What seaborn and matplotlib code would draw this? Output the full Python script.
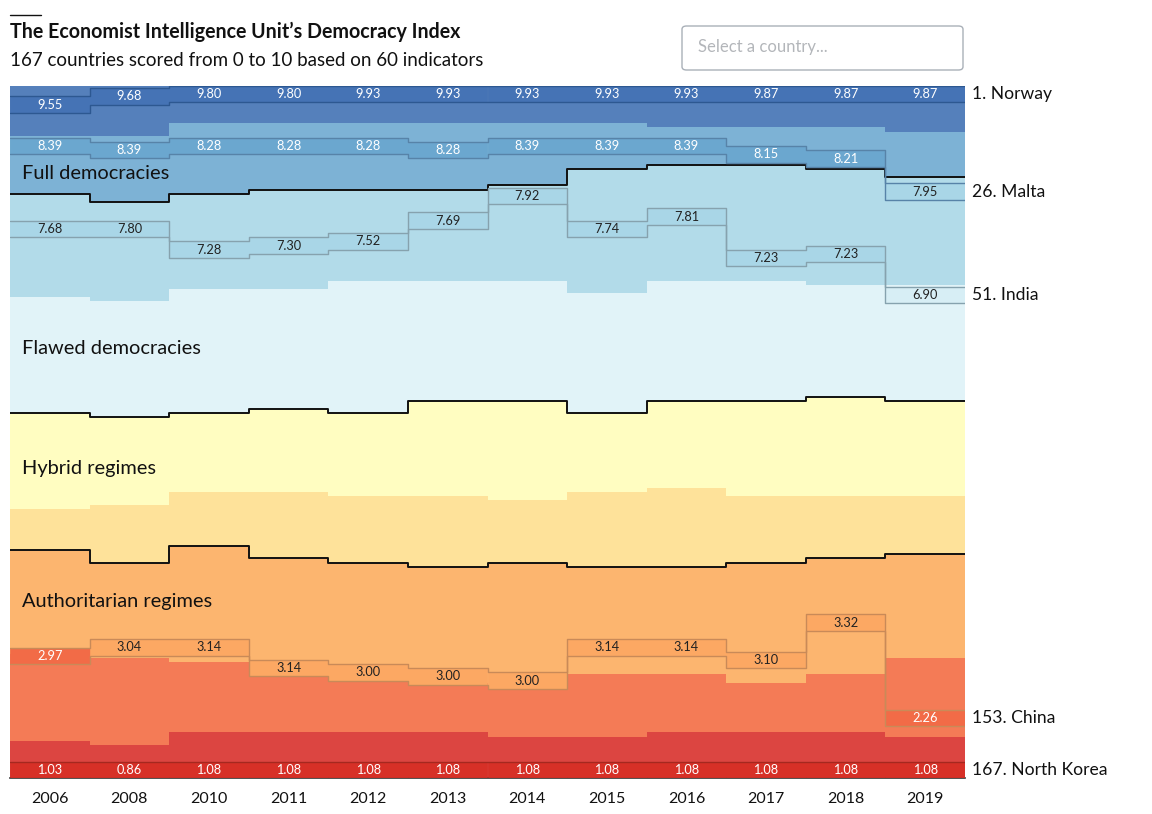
import matplotlib
matplotlib.use("Agg")
import matplotlib.pyplot as plt
from matplotlib.patches import FancyBboxPatch
import numpy as np
import pandas as pd
import seaborn as sns

# years shown as columns
years = ['2006', '2008', '2010', '2011', '2012', '2013', '2014',
         '2015', '2016', '2017', '2018', '2019']

# number of countries per score bracket, per year (top bracket first)
n_9_10 = [12, 12, 9, 9, 9, 9, 9, 9, 10, 10, 10, 11]
n_8_9 = [14, 16, 17, 16, 16, 16, 15, 11, 9, 9, 10, 11]
n_7_8 = [25, 24, 23, 24, 22, 22, 23, 30, 28, 28, 28, 26]
n_6_7 = [28, 28, 30, 29, 32, 29, 29, 29, 29, 29, 27, 28]
n_5_6 = [23, 21, 19, 20, 20, 23, 24, 19, 21, 23, 24, 23]
n_4_5 = [10, 14, 13, 16, 16, 17, 15, 18, 19, 16, 15, 14]
n_3_4 = [25, 23, 28, 28, 28, 28, 30, 26, 26, 29, 28, 25]
n_2_3 = [21, 21, 17, 14, 13, 12, 12, 15, 14, 12, 14, 19]
n_1_2 = [9, 7, 11, 11, 11, 11, 10, 10, 11, 11, 11, 10]
n_0_1 = [0, 1, 0, 0, 0, 0, 0, 0, 0, 0, 0, 0]

# highlighted countries: rank and score per year
norway_rank = [5, 3, 1, 1, 1, 1, 1, 1, 1, 1, 1, 1]
norway_score = [9.55, 9.68, 9.80, 9.80, 9.93, 9.93, 9.93, 9.93, 9.93, 9.87, 9.87, 9.87]
malta_rank = [15, 16, 15, 15, 15, 16, 15, 15, 15, 17, 18, 26]
malta_score = [8.39, 8.39, 8.28, 8.28, 8.28, 8.28, 8.39, 8.39, 8.39, 8.15, 8.21, 7.95]
india_rank = [35, 35, 40, 39, 38, 33, 27, 35, 32, 42, 41, 51]
india_score = [7.68, 7.80, 7.28, 7.30, 7.52, 7.69, 7.92, 7.74, 7.81, 7.23, 7.23, 6.90]
china_rank = [138, 136, 136, 141, 142, 143, 144, 136, 136, 139, 130, 153]
china_score = [2.97, 3.04, 3.14, 3.14, 3.00, 3.00, 3.00, 3.14, 3.14, 3.10, 3.32, 2.26]
nkorea_rank = [167] * 12
nkorea_score = [1.03, 0.86, 1.08, 1.08, 1.08, 1.08, 1.08, 1.08, 1.08, 1.08, 1.08, 1.08]

regimes = ['Full democracies', 'Flawed democracies', 'Hybrid regimes', 'Authoritarian regimes']

N = 167

# colours by bracket (index = floor of score)
band_colors = {9: '#5580bb', 8: '#7db2d5', 7: '#b2dbe9', 6: '#e1f3f8', 5: '#fffdc1',
               4: '#fee29a', 3: '#fcb56f', 2: '#f47b56', 1: '#dc4541', 0: '#d83028'}
box_colors = {9: '#4573b5', 8: '#6ba7cf', 7: '#a9d6e7', 6: '#d7eef5', 5: '#fff6a8',
              4: '#fdd685', 3: '#fca863', 2: '#f26b47', 1: '#d73027', 0: '#d73027'}
text_colors = {9: 'white', 8: 'white', 7: '#222222', 6: '#222222', 5: '#222222',
               4: '#222222', 3: '#222222', 2: 'white', 1: 'white', 0: 'white'}

sns.set_style('white')
plt.rcParams['font.family'] = ['Lato', 'DejaVu Sans']

fig = plt.figure(figsize=(11.52, 8.14), dpi=100)
ax = fig.add_axes([10 / 1152, 1 - 778 / 814, 955 / 1152, 692 / 814])

x_edges = np.arange(len(years) + 1)
centers = np.arange(len(years)) + 0.5

counts = pd.DataFrame({9: n_9_10, 8: n_8_9, 7: n_7_8, 6: n_6_7, 5: n_5_6,
                       4: n_4_5, 3: n_3_4, 2: n_2_3, 1: n_1_2, 0: n_0_1}, index=years)
ends = counts.cumsum(axis=1)
starts = ends - counts

# colour bands, drawn top to bottom so each one covers the rest
for b in range(9, -1, -1):
    top = starts[b].to_numpy(dtype=float)
    ax.fill_between(x_edges, np.append(top, top[-1]), N, step='post',
                    color=band_colors[b], linewidth=0)

# regime boundaries (after brackets 8-9, 6-7, 4-5)
for b in [8, 6, 4]:
    line = pd.DataFrame({'x': x_edges, 'y': np.append(ends[b].to_numpy(), ends[b].iloc[-1])})
    sns.lineplot(data=line, x='x', y='y', drawstyle='steps-post', color='#111111',
                 lw=1.4, ax=ax, legend=False)

# highlighted countries
BOX = 3.95
countries = [
    ('Norway', norway_rank, norway_score, '#2d5891'),
    ('Malta', malta_rank, malta_score, '#5783a8'),
    ('India', india_rank, india_score, '#86a2ae'),
    ('China', china_rank, china_score, '#c98a58'),
    ('North Korea', nkorea_rank, nkorea_score, '#a5281f'),
]
for name, rank, score, edge in countries:
    c = np.array(rank, dtype=float) - 0.5
    top = np.clip(c - BOX / 2, 0, N - BOX)
    bot = top + BOX
    br = [min(int(np.floor(s)), 9) for s in score]
    fills = [box_colors[k] for k in br]
    ax.bar(centers, bot - top, bottom=top, width=1.0,
           color=fills, edgecolor=fills, linewidth=0.4, zorder=3)
    for arr in (top, bot):
        ax.step(x_edges, np.append(arr, arr[-1]), where='post', color=edge, lw=1.0, zorder=4)
    for i, s in enumerate(score):
        ax.text(centers[i], (top[i] + bot[i]) / 2, f'{s:.2f}', ha='center', va='center',
                fontsize=9.2, color=text_colors[br[i]], zorder=5)
    ax.text(12.09, (top[-1] + bot[-1]) / 2, f'{rank[-1]}. {name}', ha='left', va='center',
            fontsize=12.6, color='#111111', clip_on=False)

# regime labels
for label, yy in zip(regimes, [21, 63.3, 92.3, 124.3]):
    ax.text(0.15, yy, label, ha='left', va='center', fontsize=14.4, color='#111111', zorder=6)

ax.set_xlim(0, len(years))
ax.set_ylim(N, 0)
ax.set_xticks(centers)
ax.set_xticklabels(years, fontsize=11.5, color='#111111')
ax.set_yticks([])
ax.set_xlabel('')
ax.set_ylabel('')
ax.tick_params(axis='x', length=5, width=1, color='#333333', pad=5)
for side in ['top', 'left', 'right']:
    ax.spines[side].set_visible(False)
ax.spines['bottom'].set_color('#333333')
ax.spines['bottom'].set_linewidth(1.2)

# header
fig.add_artist(plt.Line2D([10 / 1152, 41 / 1152], [1 - 15 / 814, 1 - 15 / 814],
                          color='#111111', lw=1))
fig.text(10 / 1152, 1 - 32 / 814, "The Economist Intelligence Unit\u2019s Democracy Index",
         ha='left', va='center', fontsize=14.1, fontweight='bold', color='#111111')
fig.text(10 / 1152, 1 - 60 / 814, '167 countries scored from 0 to 10 based on 60 indicators',
         ha='left', va='center', fontsize=13.5, color='#111111')

# country selector box
sel = FancyBboxPatch((682 / 1152, 1 - 70 / 814), 281 / 1152, 44 / 814,
                     boxstyle='round,pad=0,rounding_size=0.004', transform=fig.transFigure,
                     facecolor='white', edgecolor='#a9b0b8', lw=1)
fig.add_artist(sel)
fig.text(698 / 1152, 1 - 47 / 814, 'Select a country...', ha='left', va='center',
         fontsize=12, color='#b3b6ba')

fig.savefig('out.png', dpi=100)
